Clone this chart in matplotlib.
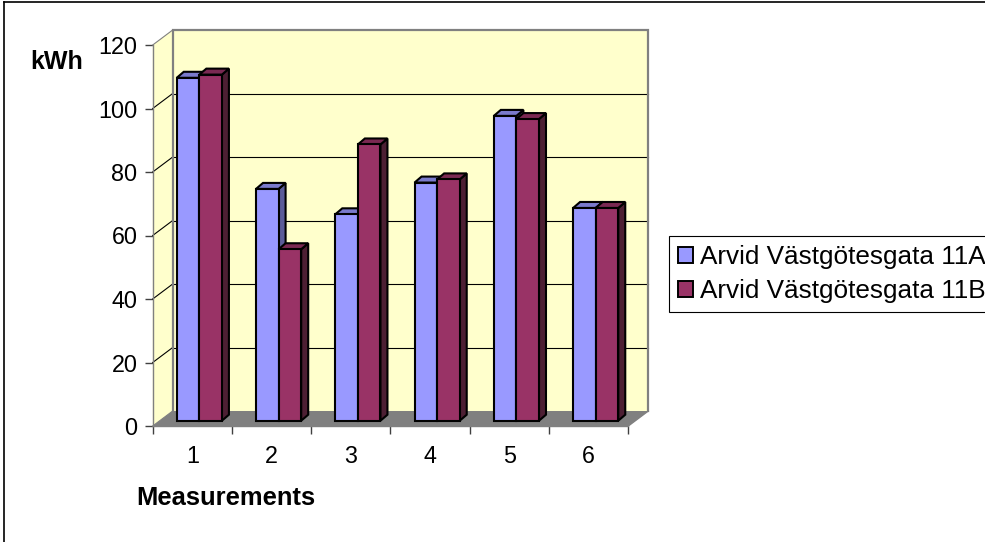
import matplotlib
matplotlib.use('Agg')
import matplotlib.pyplot as plt
from matplotlib.patches import Polygon, Patch
from matplotlib.lines import Line2D

# ---------------- data ----------------
categories = ['1', '2', '3', '4', '5', '6']
series_names = ['Arvid Västgötesgata 11A', 'Arvid Västgötesgata 11B']
values_a = [108, 73, 65, 75, 96, 67]
values_b = [109, 54, 87, 76, 95, 67]
y_ticks = [0, 20, 40, 60, 80, 100, 120]
y_label = 'kWh'
x_label = 'Measurements'

# ---------------- style ----------------
FONT = ['Liberation Sans', 'DejaVu Sans']
plt.rcParams['font.family'] = FONT
face_colors = ['#9999FF', '#993366']
top_colors = ['#7A7ACC', '#7A2952']
side_colors = ['#5C5C99', '#4D1F33']
wall_color = '#FFFFCC'
floor_color = '#808080'

W, H = 985, 542
fig = plt.figure(figsize=(W / 100, H / 100), dpi=100)
fig.patch.set_facecolor('white')

# outer chart border (top and left visible)
fig.add_artist(Line2D([4 / W, 4 / W], [0, 1 - 2 / H], transform=fig.transFigure,
                      color='black', lw=1.2))
fig.add_artist(Line2D([4 / W, 1], [1 - 2 / H, 1 - 2 / H], transform=fig.transFigure,
                      color='black', lw=1.2))

left_px, right_px = 152.7, 628.3
top_px, bottom_px = 45.0, 426.0
ax = fig.add_axes([left_px / W, 1 - bottom_px / H,
                   (right_px - left_px) / W, (bottom_px - top_px) / H])
ax.set_xlim(0.5, len(categories) + 0.5)
ax.set_ylim(y_ticks[0], y_ticks[-1])
ax.patch.set_visible(False)

ppx = (right_px - left_px) / len(categories)
ppy = (bottom_px - top_px) / (y_ticks[-1] - y_ticks[0])


def P(x, y, d):
    """data point shifted by a depth offset given in pixels (dx, dy up)."""
    return (x + d[0] / ppx, y + d[1] / ppy)


WALL = (20.0, 15.0)
BAR_FRONT = (7.0, 5.3)
BAR_BACK = (14.0, 11.3)
ZERO = (0.0, 0.0)

x0, x1 = 0.5, len(categories) + 0.5
ymin, ymax = y_ticks[0], y_ticks[-1]

# back wall
ax.add_patch(Polygon([P(x0, ymin, WALL), P(x1, ymin, WALL), P(x1, ymax, WALL), P(x0, ymax, WALL)],
                     closed=True, facecolor=wall_color, edgecolor='none', zorder=0, clip_on=False))
# side wall
ax.add_patch(Polygon([P(x0, ymin, ZERO), P(x0, ymin, WALL), P(x0, ymax, WALL), P(x0, ymax, ZERO)],
                     closed=True, facecolor=wall_color, edgecolor='none', zorder=0, clip_on=False))
# floor
ax.add_patch(Polygon([P(x0, ymin, ZERO), P(x1, ymin, ZERO), P(x1, ymin, WALL), P(x0, ymin, WALL)],
                     closed=True, facecolor=floor_color, edgecolor='none', zorder=1, clip_on=False))

# gridlines on back wall + diagonals on side wall
for v in y_ticks[1:-1]:
    a, b = P(x0, v, WALL), P(x1, v, WALL)
    ax.plot([a[0], b[0]], [a[1], b[1]], color='black', lw=0.8, zorder=2, clip_on=False)
for v in y_ticks:
    a, b = P(x0, v, ZERO), P(x0, v, WALL)
    col = '#808080' if v in (ymin, ymax) else 'black'
    ax.plot([a[0], b[0]], [a[1], b[1]], color=col, lw=0.8, zorder=2, clip_on=False)
# wall outline (grey)
pts = [P(x0, ymin, WALL), P(x0, ymax, WALL), P(x1, ymax, WALL), P(x1, ymin, WALL)]
ax.plot([p[0] for p in pts], [p[1] for p in pts], color='#808080', lw=1.6, zorder=2,
        clip_on=False, solid_joinstyle='miter')
# floor right edge
a, b = P(x1, ymin, ZERO), P(x1, ymin, WALL)
ax.plot([a[0], b[0]], [a[1], b[1]], color='#808080', lw=1.0, zorder=2, clip_on=False)

# ---------------- bars ----------------
width = 0.285
series = [values_a, values_b]
xs = list(range(1, len(categories) + 1))
EDGE_LW = 1.5
for i, xc in enumerate(xs):
    for s, vals in enumerate(series):
        v = vals[i]
        xl = xc - width + s * width
        xr = xl + width
        z = 3 + s
        side = [P(xr, 0, BAR_FRONT), P(xr, 0, BAR_BACK), P(xr, v, BAR_BACK), P(xr, v, BAR_FRONT)]
        ax.add_patch(Polygon(side, closed=True, facecolor=side_colors[s], edgecolor='black',
                             lw=EDGE_LW, zorder=z, clip_on=False, joinstyle='miter'))
        top = [P(xl, v, BAR_FRONT), P(xr, v, BAR_FRONT), P(xr, v, BAR_BACK), P(xl, v, BAR_BACK)]
        ax.add_patch(Polygon(top, closed=True, facecolor=top_colors[s], edgecolor='black',
                             lw=EDGE_LW, zorder=z, clip_on=False, joinstyle='miter'))
        front = [P(xl, 0, BAR_FRONT), P(xr, 0, BAR_FRONT), P(xr, v, BAR_FRONT), P(xl, v, BAR_FRONT)]
        ax.add_patch(Polygon(front, closed=True, facecolor=face_colors[s], edgecolor='black',
                             lw=EDGE_LW, zorder=z, clip_on=False, joinstyle='miter'))

# ---------------- axes ----------------
for side_name in ('top', 'right'):
    ax.spines[side_name].set_visible(False)
for side_name in ('left', 'bottom'):
    ax.spines[side_name].set_color('#808080')
    ax.spines[side_name].set_linewidth(1.0)
    ax.spines[side_name].set_zorder(6)

ax.set_yticks(y_ticks)
ax.set_yticklabels([str(t) for t in y_ticks])
ax.tick_params(axis='y', direction='out', length=6, width=1, color='#404040',
               labelsize=16.8, pad=5)
ax.set_xticks([k + 0.5 for k in range(len(categories) + 1)])
ax.set_xticklabels([])
ax.set_xticks(xs, minor=True)
ax.set_xticklabels(categories, minor=True)
ax.tick_params(axis='x', which='major', direction='out', length=6, width=1, color='#404040')
ax.tick_params(axis='x', which='minor', length=0, labelsize=16.8, pad=14)

fig.text(30 / W, 1 - 61.7 / H, y_label, ha='left', va='center', fontsize=18,
         fontweight='bold')
fig.text(136 / W, 1 - 497.7 / H, x_label, ha='left', va='center', fontsize=18.4,
         fontweight='bold')

# ---------------- legend ----------------
handles = [Patch(facecolor=face_colors[k], edgecolor='black', lw=1.4) for k in range(2)]
leg = fig.legend(handles, series_names, loc='upper left',
                 bbox_to_anchor=(669 / W, 1 - 236 / H), fontsize=18.8,
                 frameon=True, fancybox=False, edgecolor='black', framealpha=1,
                 handlelength=0.55, handleheight=0.55, handletextpad=0.3,
                 borderpad=0.35, labelspacing=0.38, borderaxespad=0)
leg.get_frame().set_linewidth(0.8)

fig.savefig('out.png', dpi=100)
